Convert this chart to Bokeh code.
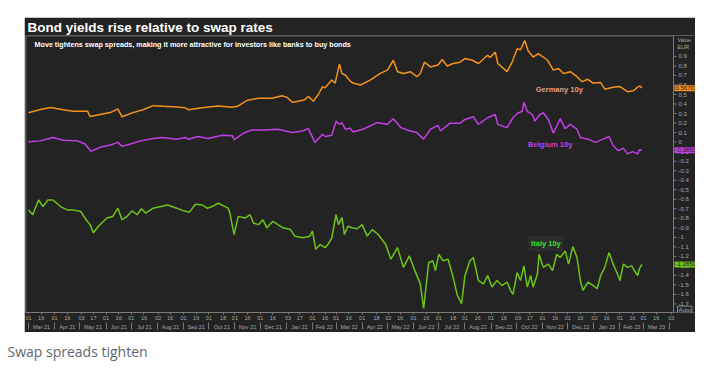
import datetime as dt
from bokeh.plotting import figure
from bokeh.models import (ColumnDataSource, Label, DatetimeAxis, FixedTicker, Span,
                          DatetimeTickFormatter, Range1d, Spacer)
from bokeh.layouts import column, row
from bokeh.core.properties import value
from bokeh.embed import file_html
from bokeh.resources import INLINE

# ---------------- data ----------------
germany_dates = ["2021-03-01","2021-03-15","2021-03-27","2021-04-11","2021-04-23","2021-05-10","2021-05-13",
    "2021-05-25","2021-06-06","2021-06-15","2021-06-20","2021-07-03","2021-07-15","2021-07-27","2021-08-08",
    "2021-08-24","2021-09-03","2021-09-07","2021-09-23","2021-10-12","2021-10-29","2021-11-05","2021-11-16",
    "2021-11-29","2021-12-15","2021-12-27","2022-01-02","2022-01-08","2022-01-15","2022-01-23","2022-01-27",
    "2022-02-02","2022-02-08","2022-02-13","2022-02-16","2022-02-24","2022-02-28","2022-03-05","2022-03-08",
    "2022-03-12","2022-03-18","2022-03-21","2022-03-30","2022-04-11","2022-04-22","2022-05-01","2022-05-08",
    "2022-05-13","2022-05-20","2022-05-28","2022-06-05","2022-06-09","2022-06-14","2022-06-21","2022-06-30",
    "2022-07-05","2022-07-11","2022-07-18","2022-07-26","2022-08-01","2022-08-10","2022-08-17","2022-08-28",
    "2022-08-31","2022-09-06","2022-09-09","2022-09-20","2022-09-26","2022-10-02","2022-10-06","2022-10-11",
    "2022-10-15","2022-10-21","2022-10-27","2022-11-02","2022-11-07","2022-11-14","2022-11-20","2022-11-26",
    "2022-12-04","2022-12-12","2022-12-18","2022-12-25","2022-12-31","2023-01-09","2023-01-14","2023-01-24",
    "2023-02-01","2023-02-10","2023-02-17","2023-02-22","2023-02-25","2023-02-27"]
germany_vals = [0.308,0.342,0.363,0.34,0.325,0.325,0.27,
    0.29,0.31,0.35,0.266,0.31,0.34,0.383,0.376,
    0.37,0.36,0.34,0.36,0.38,0.366,0.38,0.44,
    0.46,0.46,0.487,0.47,0.418,0.43,0.446,0.48,
    0.43,0.50,0.583,0.57,0.653,0.62,0.82,0.72,
    0.705,0.64,0.62,0.60,0.653,0.72,0.756,0.86,
    0.74,0.72,0.74,0.687,0.72,0.84,0.79,0.81,
    0.867,0.80,0.826,0.84,0.878,0.86,0.826,0.912,
    0.89,0.946,0.826,0.74,0.84,0.98,0.97,1.067,
    0.96,0.894,0.93,0.894,0.86,0.756,0.774,0.72,
    0.74,0.687,0.635,0.66,0.62,0.625,0.556,0.577,
    0.583,0.53,0.54,0.577,0.59,0.567]

belgium_dates = ["2021-03-01","2021-03-15","2021-03-30","2021-04-11","2021-04-28","2021-05-07","2021-05-14",
    "2021-05-25","2021-06-06","2021-06-15","2021-06-20","2021-06-30","2021-07-12","2021-07-27","2021-08-07",
    "2021-08-24","2021-09-03","2021-09-07","2021-09-18","2021-09-30","2021-10-17","2021-10-29","2021-10-31",
    "2021-11-11","2021-11-21","2021-12-07","2021-12-22","2022-01-08","2022-01-20","2022-01-27","2022-02-04",
    "2022-02-13","2022-02-16","2022-02-24","2022-03-01","2022-03-05","2022-03-08","2022-03-12","2022-03-18",
    "2022-03-21","2022-04-02","2022-04-19","2022-05-01","2022-05-08","2022-05-17","2022-05-28","2022-06-05",
    "2022-06-13","2022-06-21","2022-06-30","2022-07-03","2022-07-14","2022-07-26","2022-08-01","2022-08-11",
    "2022-08-17","2022-08-28","2022-09-06","2022-09-09","2022-09-20","2022-09-27","2022-10-02","2022-10-08",
    "2022-10-10","2022-10-14","2022-10-20","2022-10-23","2022-10-29","2022-11-02","2022-11-08","2022-11-14",
    "2022-11-22","2022-11-28","2022-12-04","2022-12-12","2022-12-16","2022-12-25","2023-01-03","2023-01-12",
    "2023-01-19","2023-01-24","2023-01-30","2023-02-05","2023-02-10","2023-02-16","2023-02-22","2023-02-24",
    "2023-02-27"]
belgium_vals = [0.003,0.013,0.049,0.02,0.013,-0.02,-0.096,
    -0.055,-0.03,-0.003,-0.045,-0.02,0.013,0.038,0.049,
    0.031,0.049,0.03,0.059,0.038,0.073,0.066,0.024,
    0.093,0.128,0.128,0.135,0.10,0.117,0.142,-0.003,
    0.083,0.059,0.073,0.22,0.187,0.204,0.135,0.145,
    0.107,0.135,0.204,0.187,0.246,0.152,0.117,0.10,
    0.031,0.135,0.176,0.117,0.197,0.197,0.238,0.266,
    0.187,0.256,0.29,0.187,0.152,0.256,0.30,0.324,
    0.418,0.324,0.29,0.22,0.29,0.308,0.238,0.093,
    0.246,0.142,0.187,0.135,0.049,0.031,-0.003,0.031,
    0.059,-0.038,-0.09,-0.065,-0.124,-0.10,-0.124,-0.08,
    -0.085]

italy_dates = ["2021-03-01","2021-03-06","2021-03-09","2021-03-13","2021-03-18","2021-03-24","2021-03-30",
    "2021-04-08","2021-04-16","2021-04-23","2021-05-02","2021-05-07","2021-05-13","2021-05-17","2021-05-23",
    "2021-06-02","2021-06-09","2021-06-15","2021-06-20","2021-06-26","2021-07-02","2021-07-08","2021-07-13",
    "2021-07-18","2021-07-27","2021-08-13","2021-08-24","2021-09-01","2021-09-08","2021-09-15","2021-09-23",
    "2021-09-29","2021-10-05","2021-10-12","2021-10-24","2021-10-26","2021-10-31","2021-11-05","2021-11-13",
    "2021-11-19","2021-11-23","2021-11-29","2021-12-04","2021-12-09","2021-12-16","2021-12-22","2021-12-28",
    "2022-01-06","2022-01-11","2022-01-21","2022-01-29","2022-02-01","2022-02-05","2022-02-10","2022-02-16",
    "2022-02-20","2022-02-24","2022-03-01","2022-03-04","2022-03-08","2022-03-11","2022-03-15","2022-03-20",
    "2022-03-26","2022-04-01","2022-04-07","2022-04-13","2022-04-20","2022-04-29","2022-05-05","2022-05-13",
    "2022-05-20","2022-05-27","2022-06-01","2022-06-09","2022-06-13","2022-06-19","2022-06-24","2022-06-27",
    "2022-07-01","2022-07-06","2022-07-12","2022-07-17","2022-07-23","2022-07-28","2022-08-01","2022-08-07",
    "2022-08-11","2022-08-17","2022-08-23","2022-08-28","2022-09-02","2022-09-08","2022-09-14","2022-09-20",
    "2022-09-24","2022-09-27","2022-10-02","2022-10-06","2022-10-10","2022-10-14","2022-10-18","2022-10-21",
    "2022-10-26","2022-10-28","2022-11-02","2022-11-08","2022-11-13","2022-11-18","2022-11-22","2022-11-28",
    "2022-12-02","2022-12-07","2022-12-12","2022-12-16","2022-12-19","2022-12-25","2022-12-31","2023-01-05",
    "2023-01-09","2023-01-14","2023-01-19","2023-01-24","2023-01-29","2023-02-01","2023-02-05","2023-02-10",
    "2023-02-15","2023-02-17","2023-02-22","2023-02-24","2023-02-27"]
italy_vals = [-0.712,-0.763,-0.694,-0.608,-0.677,-0.608,-0.608,
    -0.677,-0.712,-0.712,-0.729,-0.798,-0.867,-0.953,-0.884,
    -0.798,-0.781,-0.694,-0.815,-0.781,-0.722,-0.763,-0.70,
    -0.746,-0.694,-0.66,-0.694,-0.722,-0.736,-0.653,-0.66,
    -0.694,-0.677,-0.642,-0.694,-0.746,-0.971,-0.78,-0.798,
    -0.763,-0.85,-0.867,-0.815,-0.90,-0.832,-0.867,-0.90,
    -0.919,-0.988,-1.005,-0.988,-0.936,-1.126,-1.075,-1.109,
    -1.067,-1.005,-0.763,-0.867,-0.79,-0.971,-0.884,-0.90,
    -0.91,-0.867,-0.988,-0.919,-0.971,-1.075,-1.23,-1.109,
    -1.316,-1.195,-1.316,-1.489,-1.748,-1.264,-1.247,-1.35,
    -1.178,-1.247,-1.23,-1.385,-1.61,-1.696,-1.402,-1.247,
    -1.212,-1.454,-1.489,-1.402,-1.523,-1.454,-1.506,-1.47,
    -1.557,-1.60,-1.37,-1.454,-1.30,-1.523,-1.402,-1.523,
    -1.385,-1.178,-1.316,-1.282,-1.35,-1.178,-1.212,-1.143,
    -1.282,-1.098,-1.212,-1.454,-1.557,-1.47,-1.506,-1.54,
    -1.402,-1.316,-1.16,-1.282,-1.385,-1.454,-1.282,-1.316,
    -1.30,-1.333,-1.402,-1.333,-1.285]

series_names = ["Germany 10y", "Belgium 10y", "Italy 10y"]
last_labels = ["0.5670", "-0.0850", "-1.2850"]
day_tick_dates = ["2021-03-01","2021-03-16","2021-04-01","2021-04-16","2021-05-03","2021-05-17",
    "2021-06-01","2021-06-16","2021-07-01","2021-07-16","2021-08-02","2021-08-16","2021-09-01","2021-09-16",
    "2021-10-01","2021-10-18","2021-11-01","2021-11-16","2021-12-01","2021-12-16","2022-01-03","2022-01-17",
    "2022-02-01","2022-02-16","2022-03-01","2022-03-16","2022-04-01","2022-04-18","2022-05-02","2022-05-16",
    "2022-06-01","2022-06-16","2022-07-01","2022-07-18","2022-08-01","2022-08-16","2022-09-01","2022-09-16",
    "2022-10-03","2022-10-17","2022-11-01","2022-11-16","2022-12-01","2022-12-16","2023-01-02","2023-01-16",
    "2023-02-01","2023-02-16","2023-03-01","2023-03-16","2023-04-03"]
month_starts = ["2021-03-01","2021-04-01","2021-05-01","2021-06-01","2021-07-01","2021-08-01","2021-09-01",
    "2021-10-01","2021-11-01","2021-12-01","2022-01-01","2022-02-01","2022-03-01","2022-04-01","2022-05-01",
    "2022-06-01","2022-07-01","2022-08-01","2022-09-01","2022-10-01","2022-11-01","2022-12-01","2023-01-01",
    "2023-02-01","2023-03-01","2023-04-01"]
value_ticks = [-1.7,-1.6,-1.5,-1.4,-1.3,-1.2,-1.1,-1.0,-0.9,-0.8,-0.7,-0.6,-0.5,-0.4,-0.3,-0.2,-0.1,
               0.0,0.1,0.2,0.3,0.4,0.5,0.6,0.7,0.8,0.9]

# ---------------- helpers ----------------
EPOCH = dt.datetime(1970, 1, 1)
def d(s):
    return dt.datetime.strptime(s, "%Y-%m-%d")
def ms(t):
    return (t - EPOCH).total_seconds() * 1000.0

BG = "#232323"
AX = "#7a7a7a"
TXT = "#a8a8a8"
FONT = "Liberation Sans"
colors = ["#f5931c", "#c23fe3", "#6cc417"]
label_colors = ["#eb9c7c", "#c23fe3", "#2ee02e"]
ALLRES = ["milliseconds", "seconds", "minsec", "minutes", "hourmin", "hours", "days", "months", "years"]

X0 = ms(dt.datetime(2021, 2, 25, 10))      # left edge of the plot
XAX = ms(dt.datetime(2023, 4, 5, 14))      # value axis position
X1 = ms(dt.datetime(2023, 5, 1, 16))       # right edge (room for the value axis)
Y0, Y1 = -1.79, 1.12

p = figure(width=671, height=315, x_axis_type="datetime", y_axis_location=None,
           x_range=Range1d(X0, X1), y_range=Range1d(Y0, Y1),
           output_backend="svg", toolbar_location=None,
           background_fill_color=BG, border_fill_color=BG, outline_line_color=None,
           min_border_left=1, min_border_right=0, min_border_top=0, min_border_bottom=0)
p.grid.visible = False

p.title.text = "Bond yields rise relative to swap rates"
p.title.text_color = "white"
p.title.text_font = FONT
p.title.text_font_size = "13.5px"
p.title.text_font_style = "bold"
p.title.align = "left"
p.title.offset = 2
p.title.standoff = 1

# day axis (default one)
xa = p.xaxis[0]
xa.bounds = (X0, XAX)
xa.ticker = FixedTicker(ticks=[ms(d(s)) for s in day_tick_dates])
xa.formatter = DatetimeTickFormatter(**{k: "%d" for k in ALLRES})
xa.axis_line_color = AX
xa.major_tick_line_color = AX
xa.major_tick_out = 2
xa.major_tick_in = 0
xa.minor_tick_line_color = None
xa.major_label_standoff = 1
xa.major_label_text_font = FONT
xa.major_label_text_font_size = "5.5px"
xa.major_label_text_color = TXT

# month axis
mids = []
for i in range(len(month_starts) - 1):
    a, b = ms(d(month_starts[i])), ms(d(month_starts[i + 1]))
    mids.append((a + b) / 2)
ma = DatetimeAxis(ticker=FixedTicker(ticks=mids, minor_ticks=[ms(d(s)) for s in month_starts]),
                  formatter=DatetimeTickFormatter(**{k: "%b %y" for k in ALLRES}), bounds=(X0, XAX))
ma.axis_line_color = None
ma.major_tick_line_color = None
ma.minor_tick_line_color = AX
ma.minor_tick_out = 7
ma.minor_tick_in = 0
ma.major_label_standoff = -6
ma.major_label_text_font = FONT
ma.major_label_text_font_size = "5.5px"
ma.major_label_text_color = TXT
p.add_layout(ma, "below")

# frame lines (top and left) and the value axis on the right
p.segment(x0=[X0], x1=[XAX], y0=[Y1], y1=[Y1], line_color="#5e5e5e", line_width=2)
p.add_layout(Span(location=X0, dimension="height", line_color="#5e5e5e", line_width=2))
p.add_layout(Span(location=XAX, dimension="height", line_color=AX, line_width=1))
p.ray(x=[XAX] * len(value_ticks), y=value_ticks, length=3, angle=0, length_units="screen",
      line_color=AX, line_width=1)
p.text(x=[XAX] * len(value_ticks), y=value_ticks, text=[f"{v:g}" for v in value_ticks],
       x_offset=5, text_baseline="middle", text_font=value(FONT), text_font_size="6px",
       text_color=TXT)

# lines
all_dates = [germany_dates, belgium_dates, italy_dates]
all_vals = [germany_vals, belgium_vals, italy_vals]
for ds, vs, c in zip(all_dates, all_vals, colors):
    src = ColumnDataSource(dict(x=[ms(d(s)) for s in ds], y=vs))
    p.line("x", "y", source=src, line_color=c, line_width=1.5)

# series labels
lab_pos = [("2022-10-24", 0.556, None), ("2022-10-15", -0.02, None), ("2022-10-15", -1.064, "#2c2c2c")]
for (ds, yv, bgc), name, lc in zip(lab_pos, series_names, label_colors):
    p.add_layout(Label(x=ms(d(ds)), y=yv, text=name, text_font=FONT, text_font_size="7.5px",
                       text_font_style="bold", text_color=lc, text_baseline="middle",
                       background_fill_color=bgc, padding=3 if bgc else 0))

# subtitle
p.add_layout(Label(x=X0, y=1.03, x_offset=9, text_baseline="middle",
                   text="Move tightens swap spreads, making it more attractive for investors like banks to buy bonds",
                   text_font=FONT, text_font_size="7.2px", text_font_style="bold", text_color="white"))

# last value tags on the value axis
for vs, c, t in zip(all_vals, colors, last_labels):
    p.add_layout(Label(x=XAX, y=vs[-1], x_offset=1, text=t, text_baseline="middle",
                       text_font=FONT, text_font_size="6px", text_color="#1a1a1a",
                       background_fill_color=c, padding=1))

p.add_layout(Label(x=XAX, y=1.075, x_offset=4, text="Value", text_baseline="middle",
                   text_font=FONT, text_font_size="5.5px", text_color=TXT))
p.add_layout(Label(x=XAX, y=1.0, x_offset=4, text="EUR", text_baseline="middle",
                   text_font=FONT, text_font_size="5.5px", text_color=TXT))
p.add_layout(Label(x=XAX, y=-1.765, x_offset=4, text="Auto", text_baseline="middle",
                   text_font=FONT, text_font_size="6px", text_color=TXT,
                   border_line_color="#8a8a8a", padding=1))

# caption (as the title of a small blank figure, so it is not clipped)
cap = figure(width=300, height=28, x_range=(0, 1), y_range=(0, 1), output_backend="svg",
             toolbar_location=None, min_border=0, outline_line_color=None,
             background_fill_color="white", border_fill_color="white")
cap.axis.visible = False
cap.grid.visible = False
cap.title.text = "Swap spreads tighten"
cap.title.text_font = "Open Sans"
cap.title.text_font_size = "14px"
cap.title.text_font_style = "normal"
cap.title.text_color = "#5d6670"
cap.title.align = "left"
cap.title.offset = 0
cap.title.standoff = 0

layout = column(Spacer(height=17),
                row(Spacer(width=24), p),
                Spacer(height=7),
                row(Spacer(width=7), cap))
open("out.html", "w").write(file_html(layout, INLINE))
